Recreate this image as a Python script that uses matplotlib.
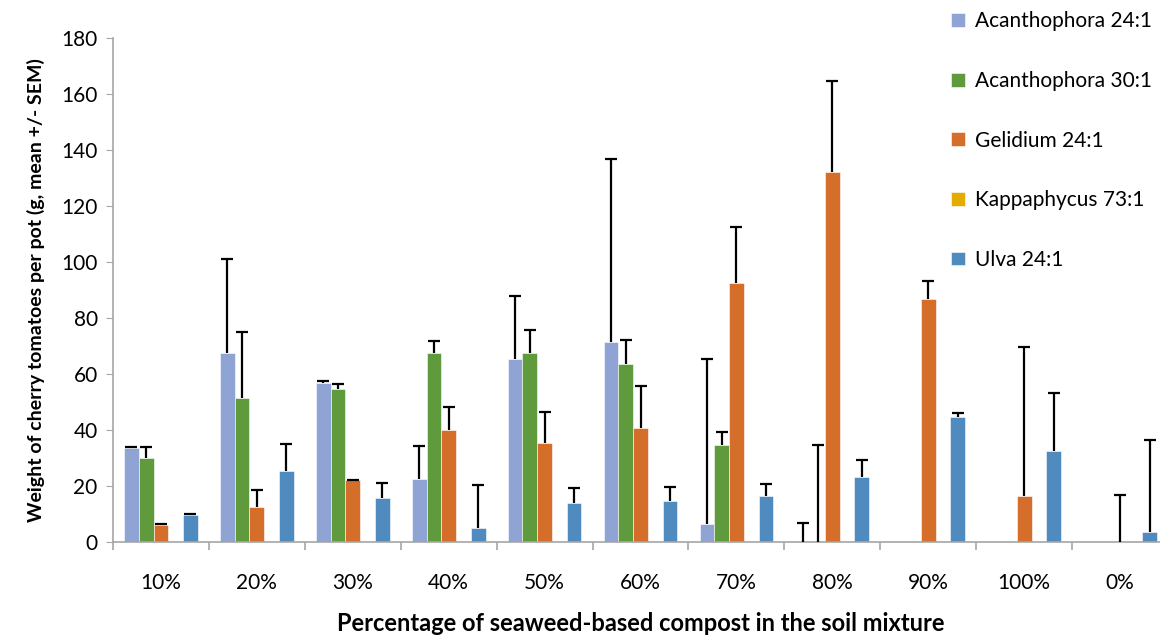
import matplotlib.pyplot as plt
import numpy as np

plt.rcParams['font.family'] = ['Lato', 'DejaVu Sans']

# data
groups = ['10%', '20%', '30%', '40%', '50%', '60%', '70%', '80%', '90%', '100%', '0%']
series = ['Acanthophora 24:1', 'Acanthophora 30:1', 'Gelidium 24:1', 'Kappaphycus 73:1', 'Ulva 24:1']

acan24 = [33.5, 67.4, 56.8, 22.5, 65.2, 71.3, 6.4, 0, 0, 0, 0]
acan24_err = [0.4, 33.8, 0.7, 11.7, 22.8, 65.4, 58.8, 6.7, 0, 0, 0]
acan30 = [30.1, 51.3, 54.5, 67.4, 67.4, 63.7, 34.6, 0, 0, 0, 0]
acan30_err = [4.0, 23.6, 1.9, 4.4, 8.2, 8.3, 4.6, 34.5, 0, 0, 0]
gel24 = [6.2, 12.6, 22.1, 40.0, 35.5, 40.8, 92.6, 132.1, 86.7, 16.3, 0]
gel24_err = [0.2, 6.0, 0.2, 8.3, 10.9, 14.9, 20.0, 32.5, 6.5, 53.3, 16.8]
kap73 = [0, 0, 0, 0, 0, 0, 0, 0, 0, 0, 0]
kap73_err = [0, 0, 0, 0, 0, 0, 0, 0, 0, 0, 0]
ulva24 = [9.6, 25.5, 15.6, 4.9, 14.0, 14.8, 16.3, 23.2, 44.6, 32.4, 3.5]
ulva24_err = [0.5, 9.5, 5.6, 15.5, 5.4, 5.0, 4.5, 6.1, 1.4, 20.7, 32.8]

means = [acan24, acan30, gel24, kap73, ulva24]
errs = [acan24_err, acan30_err, gel24_err, kap73_err, ulva24_err]
colors = ['#8FA4D5', '#5F9A3C', '#D46E2A', '#E3AC00', '#4F8BBE']

fig = plt.figure(figsize=(11.6, 6.37), dpi=100)
ax = fig.add_axes([113 / 1160, 95 / 637, 1055 / 1160, 504 / 637])

x = np.arange(len(groups))
w = 1 / 6.5
for i in range(5):
    pos = x + (i - 2) * w
    m = np.array(means[i])
    e = np.array(errs[i])
    ax.bar(pos, m, width=w, color=colors[i], label=series[i],
           edgecolor='white', linewidth=0.4, zorder=2)
    keep = e > 0
    if keep.any():
        _, caps, _ = ax.errorbar(pos[keep], m[keep], yerr=[np.zeros(keep.sum()), e[keep]],
                                 fmt='none', ecolor='black', elinewidth=1.6,
                                 capsize=4.5, capthick=1.6, zorder=3)
        caps[0].set_visible(False)  # only the upper cap, like Excel "plus"

ax.set_xlim(-0.5, len(groups) - 0.5)
ax.set_ylim(0, 180)
ax.set_yticks(np.arange(0, 181, 20))
ax.tick_params(axis='y', labelsize=15, length=5, color='#A6A6A6', pad=6)

# ticks between groups, labels at centers
ax.set_xticks(np.arange(-0.5, len(groups), 1))
ax.set_xticklabels([])
ax.set_xticks(x, minor=True)
ax.set_xticklabels(groups, minor=True)
ax.tick_params(axis='x', which='major', length=6, color='#A6A6A6', width=1.2)
ax.tick_params(axis='x', which='minor', length=0, labelsize=15, pad=22)

for s in ['top', 'right']:
    ax.spines[s].set_visible(False)
for s in ['left', 'bottom']:
    ax.spines[s].set_color('#A6A6A6')
    ax.spines[s].set_linewidth(1.2)

ax.set_ylabel('Weight of cherry tomatoes per pot (g, mean +/- SEM)',
              fontsize=14, fontweight='bold', labelpad=12)
ax.set_xlabel('Percentage of seaweed-based compost in the soil mixture',
              fontsize=17, fontweight='bold', labelpad=14)

fig.legend(loc='upper left', bbox_to_anchor=(940 / 1160, 1.0), frameon=False,
           fontsize=15, labelspacing=1.9, handlelength=0.65, handleheight=0.65,
           handletextpad=0.5, borderaxespad=0.15)

plt.savefig('out.png', dpi=100)
